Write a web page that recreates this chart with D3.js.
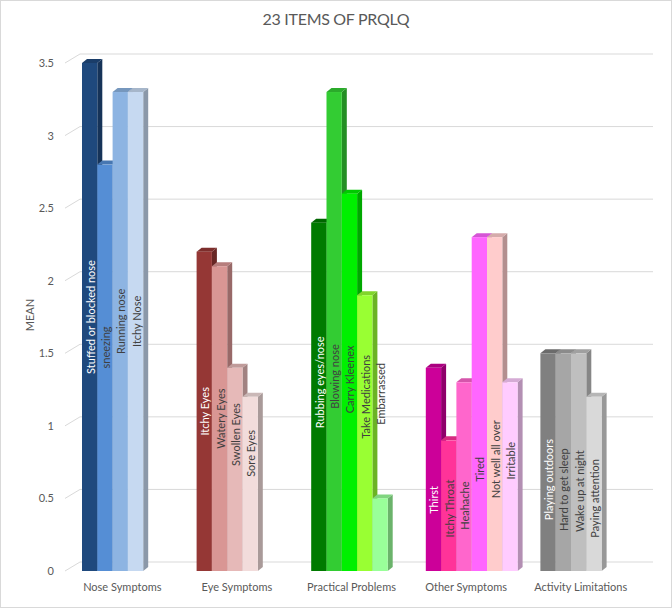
<!DOCTYPE html>
<html>
<head>
<meta charset="utf-8">
<script src="https://cdn.jsdelivr.net/npm/d3@7"></script>
<style>
  html, body { margin: 0; padding: 0; background: #fff; }
  svg { display: block; font-family: Lato, "Open Sans", sans-serif; }
</style>
</head>
<body>
<svg id="chart" width="672" height="609"></svg>
<script>
const categories = ["Nose Symptoms", "Eye Symptoms", "Practical Problems", "Other Symptoms", "Activity Limitations"];
const itemNames = [
  ["Stuffed or blocked nose", "sneezing", "Running nose", "Itchy Nose"],
  ["Itchy Eyes", "Watery Eyes", "Swollen Eyes", "Sore Eyes"],
  ["Rubbing eyes/nose", "Blowing nose", "Carry Kleenex", "Take Medications", "Embarrassed"],
  ["Thirst", "Itchy Throat", "Heahache", "Tired", "Not well all over", "Irritable"],
  ["Playing outdoors", "Hard to get sleep", "Wake up at night", "Paying attention"]
];
const itemMeans = [
  [3.5, 2.8, 3.3, 3.3],
  [2.2, 2.1, 1.4, 1.2],
  [2.4, 3.3, 2.6, 1.9, 0.5],
  [1.4, 0.9, 1.3, 2.3, 2.3, 1.3],
  [1.5, 1.5, 1.5, 1.2]
];
// where (in MEAN units) each item's label is centred
const labelMids = [
  [1.75, 1.54, 1.72, 1.72],
  [1.10, 1.05, 0.94, 0.81],
  [1.30, 1.34, 1.32, 1.20, 1.22],
  [0.49, 0.43, 0.45, 0.70, 0.77, 0.76],
  [0.63, 0.56, 0.55, 0.50]
];
const yTicks = [0, 0.5, 1, 1.5, 2, 2.5, 3, 3.5];
const palette = [
  ["#1F497D", "#558ED5", "#8DB4E2", "#C6D9F1"],
  ["#953735", "#D99694", "#E6B9B8", "#F2DCDB"],
  ["#007A00", "#33CC33", "#00F000", "#99FF33", "#99FF99"],
  ["#CC0099", "#FF3399", "#FF66CC", "#FF66FF", "#FFCCCC", "#FFCCFF"],
  ["#808080", "#A6A6A6", "#BFBFBF", "#D9D9D9"]
];
const whiteLabels = ["Stuffed or blocked nose", "Itchy Eyes", "Rubbing eyes/nose", "Thirst", "Playing outdoors"];

const svg = d3.select("#chart");
const W = 672, H = 609;
const depthX = 5, depthY = 4;      // bar 3D depth
const backX = 15, backY = 9;       // back wall offset

svg.append("rect").attr("x", 0.5).attr("y", 0.5).attr("width", W - 1).attr("height", H - 2)
  .attr("fill", "#fff").attr("stroke", "#d9d9d9");

const x = d3.scaleBand().domain(categories).range([65, 638]).padding(0);
const inner = d3.scaleBand().domain(d3.range(6)).range([17, 17 + 6 * 15.3]).padding(0);
const y = d3.scaleLinear().domain([0, 3.5]).range([571, 63]);

// gridlines (diagonal floor/side then back wall)
const grid = svg.append("g").attr("stroke", "#d9d9d9").attr("stroke-width", 1).attr("fill", "none");
yTicks.forEach(t => {
  const yf = y(t);
  grid.append("path")
    .attr("d", `M${x.range()[0]},${yf} L${x.range()[0] + backX},${yf - backY} L653,${yf - backY}`);
});

// title
svg.append("text").attr("x", 336).attr("y", 25).attr("text-anchor", "middle")
  .attr("font-size", 16).attr("fill", "#595959").attr("letter-spacing", -0.3)
  .text("23 ITEMS OF PRQLQ");

// y axis
const yAxis = svg.append("g").attr("transform", `translate(${x.range()[0]},0)`)
  .call(d3.axisLeft(y).tickValues(yTicks).tickSize(0).tickPadding(11).tickFormat(d3.format("")));
yAxis.select(".domain").remove();
yAxis.selectAll("text").attr("font-size", 11).attr("fill", "#595959").attr("font-family", "Lato, sans-serif");

svg.append("text").attr("transform", `translate(34,${y(1.75) - 2}) rotate(-90)`)
  .attr("text-anchor", "middle").attr("font-size", 11).attr("fill", "#595959").text("MEAN");

// x axis
const xAxis = svg.append("g").attr("transform", `translate(0,${y(0)})`)
  .call(d3.axisBottom(x).tickSize(0).tickPadding(12));
xAxis.select(".domain").remove();
xAxis.selectAll("text").attr("font-size", 11).attr("fill", "#595959").attr("font-family", "Lato, sans-serif");

// bars
const bars = [];
categories.forEach((c, ci) => {
  itemNames[ci].forEach((n, i) => {
    bars.push({ cat: c, ci, i, name: n, value: itemMeans[ci][i], mid: labelMids[ci][i], color: palette[ci][i] });
  });
});

const g = svg.append("g");
const barG = g.selectAll("g.bar").data(bars).join("g").attr("class", "bar");
barG.each(function(d) {
  const sel = d3.select(this);
  const x0 = x(d.cat) + inner(d.i), w = inner.bandwidth();
  const yt = y(d.value), yb = y(0);
  const col = d3.color(d.color);
  // side face
  sel.append("path")
    .attr("d", `M${x0 + w},${yt} L${x0 + w + depthX},${yt - depthY} L${x0 + w + depthX},${yb - depthY} L${x0 + w},${yb} Z`)
    .attr("fill", col.darker(1).formatHex());
  // top face
  sel.append("path")
    .attr("d", `M${x0},${yt} L${x0 + depthX},${yt - depthY} L${x0 + w + depthX},${yt - depthY} L${x0 + w},${yt} Z`)
    .attr("fill", col.darker(0.5).formatHex());
  // front face
  sel.append("rect").attr("x", x0).attr("y", yt).attr("width", w).attr("height", yb - yt)
    .attr("fill", d.color);
});

// labels
g.selectAll("text.lbl").data(bars).join("text").attr("class", "lbl")
  .attr("transform", d => `translate(${x(d.cat) + inner(d.i) + inner.bandwidth() / 2 + 0.5},${y(d.mid)}) rotate(-90)`)
  .attr("text-anchor", "middle").attr("dominant-baseline", "central")
  .attr("font-size", 11)
  .attr("fill", d => whiteLabels.includes(d.name) ? "#ffffff" : "#404040")
  .text(d => d.name);
</script>
</body>
</html>
